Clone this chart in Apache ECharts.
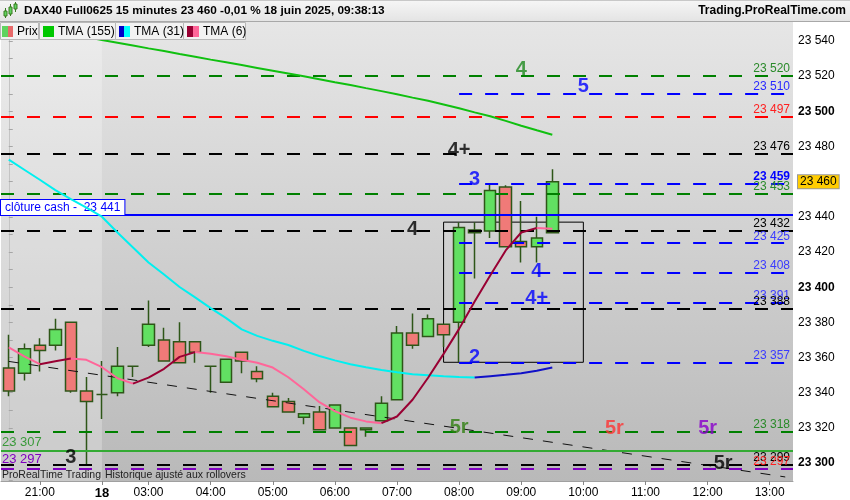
<!DOCTYPE html>
<html><head><meta charset="utf-8">
<script src="https://cdn.jsdelivr.net/npm/echarts@6/dist/echarts.min.js"></script>
<style>html,body{margin:0;padding:0;background:#fff}#c{width:850px;height:500px}</style>
</head><body><div id="c"></div>
<script>
// ---------- DATA ----------
const categories = ['20:30','20:45','21:00','21:15','21:30','21:45','18','02:30','02:45',
 '03:00','03:15','03:30','03:45','04:00','04:15','04:30','04:45','05:00','05:15','05:30','05:45',
 '06:00','06:15','06:30','06:45','07:00','07:15','07:30','07:45','08:00','08:15','08:30','08:45',
 '09:00','09:15','09:30','09:45','10:00','10:15','10:30','10:45','11:00','11:15','11:30','11:45',
 '12:00','12:15','12:30','12:45','13:00','13:15'];
const openP  = [23354,23351,23367,23367,23380,23341,23339,23340,23355,23367,23370,23369,23369,23355,23346,23363,23352,23338,23335,23326,23329,23320,23320,23319,23324,23336,23374,23372,23379,23380,23431,23432,23457,23426,23423,23431];
const closeP = [23341,23365,23364,23376,23341,23335,23339,23355,23355,23379,23358,23357,23363,23355,23359,23358,23348,23332,23329,23328,23319,23333,23310,23320,23334,23374,23367,23382,23373,23434,23432.5,23455,23423,23423,23428,23460];
const lowP   = [23338,23347,23352,23364,23340,23299,23325,23338,23349,23366,23358,23357,23357,23340,23346,23351,23346,23332,23329,23322,23319,23320,23310,23315,23324,23336,23365,23372,23366,23357.5,23405,23428,23423,23414,23414,23431];
const highP  = [23373,23368,23371,23382,23380,23349,23358,23366,23355,23392.5,23377,23380,23369,23355,23359,23363,23355,23340,23337,23328,23332.5,23333,23320,23320,23338,23378,23385,23384.5,23379,23437,23437,23459,23458,23449,23440,23467];
const tma155 = [23550.1,23548.5,23546.9,23545.3,23543.7,23542.2,23540.6,23539,23537.4,23535.8,23534.3,23532.6,23531.1,23529.4,23527.9,23526.3,23524.7,23523.1,23521.5,23519.9,23518.3,23516.6,23515,23513.2,23511.5,23509.7,23507.8,23506,23503.9,23501.8,23499.4,23497.2,23494.6,23491.8,23489.2,23486.7];
const tma31  = [23472.5,23466.8,23461.1,23455.2,23450.1,23445.2,23440.1,23431.1,23422.6,23414,23407.2,23400.1,23394.2,23388.1,23382.4,23376,23372.3,23369.5,23367.1,23363.8,23360.9,23358.4,23356.2,23354.5,23352.9,23351.6,23350.5,23349.9,23349.3,23348.9,23348.6,23349.4,23350.2,23351.1,23352.5,23354.3];
const tma6   = [23365.8,23360.7,23356.2,23357.9,23359.4,23358.7,23354.5,23348.2,23345.2,23348.6,23353.6,23360.4,23363.1,23362.1,23360.7,23358.7,23357,23354.3,23348.8,23342,23334.6,23329.5,23325.8,23323.7,23322.7,23326.5,23336,23348.5,23362.1,23376.3,23391.9,23406.7,23420.9,23431.1,23433.7,23433.2];
// horizontal levels: value and the time where the line starts (null = whole chart)
const levelValues = [23520,23510,23497,23476,23459,23453,23441,23432,23425,23408,23391,23388,23357,23318,23307,23299,23297,23297];
const levelStart  = [null,'08:00',null,null,'08:00',null,null,null,'08:00','08:00','08:00',null,'08:00',null,null,null,null,null];
// wave annotations: [time, price, text]
const annotations = [
 ['09:00',23524,'4'],['10:00',23514,'5'],['08:00',23478,'4+'],['08:15',23461,'3'],['07:15',23433,'4'],
 ['09:15',23409,'4'],['09:15',23393.5,'4+'],['08:15',23360,'2'],['08:00',23320.5,'5r'],['10:30',23319.5,'5r'],
 ['12:00',23319.5,'5r'],['12:15',23300,'5r'],['21:30',23303,'3']];
const annotationColors = ['#1f8a1f','#0000ff','#000000','#0000ff','#000000','#0000ff','#0000ff','#0000ff','#2f7f10','#ff3333','#8a00cc','#000000','#000000'];
const boxRange = {from:'07:45', to:'10:00', high:23437, low:23357.3};
const trendLine = [['20:30',23357.8],['13:15',23292.1]];
const dayStart = '18';
const yTicks = [23300,23320,23340,23360,23380,23400,23420,23440,23460,23480,23500,23520,23540];
const yMinor = [23290,23300,23310,23320,23330,23340,23350,23360,23370,23380,23390,23400,23410,23420,23430,23440,23450,23460,23470,23480,23490,23500,23510,23520,23530,23540,23550];
// ---------- STYLES ----------
const levelStyles = [
 {c:'#008000', t:'#2a8a2a'},{c:'#0000ff', t:'#2a2aff'},{c:'#ff0000', t:'#ff2020'},{c:'#000000', t:'#000'},
 {c:'#0000ff', t:'#0000ff', bold:true},{c:'#008000', t:'#2a8a2a'},{c:'#0000ff', solid:true, box:true},
 {c:'#000000', t:'#000'},{c:'#0000ff', t:'#3a3aff'},{c:'#0000ff', t:'#3a3aff'},{c:'#0000ff', t:'#3a3aff'},
 {c:'#000000', t:'#000'},{c:'#0000ff', t:'#3a3aff'},{c:'#008000', t:'#2a8a2a'},
 {c:'#33aa33', solid:true, left:true, t:'#3a9a3a'},{c:'#000000', t:'#000'},{c:'#ff0000', t:'#ff2020'},
 {c:'#8000c0', left:true, t:'#8000c0'}];

const idx = t => categories.indexOf(t);
const fmt = v => { const s = String(v); return s.replace(/\B(?=(\d{3})+(?!\d))/g,' '); };
const lastClose = closeP[closeP.length-1];
const xMax = categories.length - 0.5;

const chart = echarts.init(document.getElementById('c'), null, {renderer:'canvas'});
const FONT = '"Liberation Sans", Arial, sans-serif';

// run-split colored lines
function runs(vals, upColor, dnColor, width, z){
  const out = []; let i = 0;
  while (i < vals.length-1){
    const up = vals[i+1] >= vals[i]; let j = i;
    while (j < vals.length-1 && (vals[j+1] >= vals[j]) === up) j++;
    const d = vals.map((v,k)=> (k>=i && k<=j) ? v : null);
    out.push({type:'line', xAxisIndex:0, yAxisIndex:0, data:d, showSymbol:false, silent:true, z:z,
      lineStyle:{color: up?upColor:dnColor, width:width}, itemStyle:{color: up?upColor:dnColor}});
    i = j;
  }
  return out;
}

const markLines = levelValues.map((v,i)=>{
  const st = levelStyles[i];
  const x0 = levelStart[i] ? idx(levelStart[i]) : -0.5;
  let label;
  if (st.box) label = {show:true, position:'insideStartTop', distance:[0,0], formatter:'clôture cash -  '+fmt(v),
      color:'#0000ff', backgroundColor:'#ffffff', borderColor:'#0000ff', borderWidth:1, padding:[2,4,1,4], fontSize:12, fontFamily:FONT};
  else if (st.left) label = {show:true, position:'insideStartTop', distance:[1,2], formatter:fmt(v), color:st.t, fontSize:13, fontFamily:FONT};
  else label = {show:true, position:'insideEndTop', distance:[3,1], formatter:fmt(v), color:st.t, fontSize:12,
      fontWeight: st.bold?'bold':'normal', fontFamily:FONT};
  return [{coord:[x0, v], lineStyle:{color:st.c, width:2, type: st.solid?'solid':[13,13]}, label:label},
          {coord:[xMax, v]}];
});

const option = {
  backgroundColor:'#ffffff',
  animation:false,
  grid:{left:1, right:57, top:22, bottom:18, show:true, borderWidth:0,
    backgroundColor: new echarts.graphic.LinearGradient(0,0,0,1,[{offset:0,color:'#e6e6e6'},{offset:1,color:'#b9b9b9'}])},
  xAxis:[{type:'category', data:categories, boundaryGap:true,
      axisLine:{show:true, lineStyle:{color:'#a0a0a0'}},
      axisTick:{show:true, length:4, lineStyle:{color:'#888'}, alignWithLabel:true,
        interval:(i,v)=> v.endsWith(':00') || v===dayStart},
      axisLabel:{color:'#000', fontSize:12, fontFamily:FONT, margin:6,
        interval:(i,v)=> v.endsWith(':00') || v===dayStart,
        formatter:v=> v===dayStart ? '{b|'+v+'}' : v,
        rich:{b:{fontWeight:'bold', fontSize:13, fontFamily:FONT, color:'#000'}}},
      splitLine:{show:false}},
    {type:'value', min:-0.5, max:xMax, show:false}],
  yAxis:{type:'value', position:'right', min:23289.8, max:23550.8, scale:true,
    axisLine:{show:true, lineStyle:{color:'#b0b0b0'}},
    axisTick:{show:true, length:4, lineStyle:{color:'#888'}, customValues:yMinor},
    axisLabel:{customValues:yTicks, margin:5, color:'#000', fontSize:12, fontFamily:FONT,
      formatter:v=>{ const s=fmt(v); if (v===lastClose) return '{cur|'+s+'}'; if (v%100===0) return '{b|'+s+'}'; return s; },
      rich:{cur:{backgroundColor:'#ffcc00', borderColor:'#999', borderWidth:1, padding:[1,2,0,2], color:'#000', fontSize:12, fontFamily:FONT},
            b:{fontWeight:'bold', color:'#000', fontSize:12, fontFamily:FONT}}},
    splitLine:{show:false}},
  series:[
    {type:'line', xAxisIndex:1, yAxisIndex:0, data:[], silent:true, z:1,
      markArea:{silent:true, itemStyle:{color:'rgba(255,255,255,0.25)'},
        data:[[{coord:[-0.5, 23289.8]},{coord:[idx(dayStart), 23550.8]}]]}},
    {type:'candlestick', xAxisIndex:0, yAxisIndex:0, barWidth:12, z:2, silent:true,
      data: openP.map((o,i)=>[o, closeP[i], lowP[i], highP[i]]),
      itemStyle:{color:'#62e062', color0:'#f07a78', borderColor:'#2e5618', borderColor0:'#2e5618', borderWidth:1.5}},
    {type:'line', xAxisIndex:1, yAxisIndex:0, data:trendLine.map(p=>[idx(p[0]),p[1]]), showSymbol:false, silent:true, z:3,
      lineStyle:{color:'#111', width:1, type:[10,10]}},
    {type:'line', xAxisIndex:1, yAxisIndex:0, data:[], silent:true, z:3,
      markArea:{silent:true, itemStyle:{color:'rgba(0,0,0,0)', borderColor:'#000', borderWidth:1},
        data:[[{coord:[idx(boxRange.from), boxRange.high]},{coord:[idx(boxRange.to), boxRange.low]}]]}},
    {type:'line', xAxisIndex:1, yAxisIndex:0, data:[], silent:true, z:4,
      markLine:{silent:true, symbol:['none','none'], animation:false, data:markLines}},
    ...runs(tma155, '#10c010', '#10c010', 2, 5),
    ...runs(tma31, '#1010c8', '#00f0f0', 2, 5),
    ...runs(tma6, '#990033', '#ff6699', 2, 6),
    {type:'scatter', xAxisIndex:1, yAxisIndex:0, symbolSize:0, silent:true, z:7,
      itemStyle:{color:'transparent'},
      data: annotations.map((a,i)=>({value:[idx(a[0]), a[1]],
        label:{show:true, position:'inside', formatter:a[2], color:annotationColors[i],
          fontSize:20, fontWeight:'bold', fontFamily:FONT}}))}
  ],
  graphic:[
    {type:'rect', z:100, shape:{x:0,y:0,width:850,height:21},
      style:{fill:new echarts.graphic.LinearGradient(0,0,0,1,[{offset:0,color:'#f6f6f6'},{offset:1,color:'#e4e4e4'}])}},
    {type:'line', z:100, shape:{x1:0,y1:21.5,x2:850,y2:21.5}, style:{stroke:'#a8a8a8', lineWidth:1}},
    {type:'line', z:100, shape:{x1:0,y1:0.5,x2:850,y2:0.5}, style:{stroke:'#c8c8c8', lineWidth:1}},
    // small candle icon
    {type:'line', z:101, shape:{x1:5.5,y1:8,x2:5.5,y2:18}, style:{stroke:'#3a7a20', lineWidth:1}},
    {type:'rect', z:101, shape:{x:4,y:11,width:3,height:5}, style:{fill:'#5fd35f', stroke:'#3a7a20', lineWidth:1}},
    {type:'line', z:101, shape:{x1:10.5,y1:4,x2:10.5,y2:16}, style:{stroke:'#3a7a20', lineWidth:1}},
    {type:'rect', z:101, shape:{x:9,y:7,width:3,height:7}, style:{fill:'#5fd35f', stroke:'#3a7a20', lineWidth:1}},
    {type:'line', z:101, shape:{x1:15.5,y1:2,x2:15.5,y2:12}, style:{stroke:'#3a7a20', lineWidth:1}},
    {type:'rect', z:101, shape:{x:14,y:4,width:3,height:5}, style:{fill:'#5fd35f', stroke:'#3a7a20', lineWidth:1}},
    {type:'text', z:101, style:{x:24, y:11, text:'DAX40 Full0625 15 minutes 23 460 -0,01 % 18 juin 2025, 09:38:13',
      font:'bold 11.8px '+FONT, fill:'#000', verticalAlign:'middle'}},
    {type:'text', z:101, style:{x:846, y:11, text:'Trading.ProRealTime.com', font:'bold 12px '+FONT, fill:'#000',
      align:'right', verticalAlign:'middle'}},
    // legend boxes
    {type:'rect', z:100, shape:{x:0.5,y:22.5,width:38,height:17}, style:{fill:'#f2f2f2', stroke:'#b8b8b8', lineWidth:1}},
    {type:'rect', z:100, shape:{x:39.5,y:22.5,width:76,height:17}, style:{fill:'#f2f2f2', stroke:'#b8b8b8', lineWidth:1}},
    {type:'rect', z:100, shape:{x:115.5,y:22.5,width:68,height:17}, style:{fill:'#f2f2f2', stroke:'#b8b8b8', lineWidth:1}},
    {type:'rect', z:100, shape:{x:183.5,y:22.5,width:62,height:17}, style:{fill:'#f2f2f2', stroke:'#b8b8b8', lineWidth:1}},
    {type:'rect', z:101, shape:{x:2,y:26,width:6,height:11}, style:{fill:'#5fd35f'}},
    {type:'rect', z:101, shape:{x:8,y:26,width:5,height:11}, style:{fill:'#e86a6a'}},
    {type:'text', z:101, style:{x:17, y:31.5, text:'Prix', font:'12px '+FONT, fill:'#000', verticalAlign:'middle'}},
    {type:'rect', z:101, shape:{x:43,y:26,width:11,height:11}, style:{fill:'#00c800'}},
    {type:'text', z:101, style:{x:58, y:31.5, text:'TMA (155)', font:'12px '+FONT, fill:'#000', verticalAlign:'middle'}},
    {type:'rect', z:101, shape:{x:119,y:26,width:5,height:11}, style:{fill:'#0000c8'}},
    {type:'rect', z:101, shape:{x:124,y:26,width:6,height:11}, style:{fill:'#00ffff'}},
    {type:'text', z:101, style:{x:134, y:31.5, text:'TMA (31)', font:'12px '+FONT, fill:'#000', verticalAlign:'middle'}},
    {type:'rect', z:101, shape:{x:187,y:26,width:6,height:11}, style:{fill:'#990033'}},
    {type:'rect', z:101, shape:{x:193,y:26,width:6,height:11}, style:{fill:'#ff6699'}},
    {type:'text', z:101, style:{x:203, y:31.5, text:'TMA (6)', font:'12px '+FONT, fill:'#000', verticalAlign:'middle'}},
    // footer notes
    {type:'text', z:101, style:{x:2, y:475, text:'ProRealTime Trading', font:'10.5px '+FONT, fill:'#222', verticalAlign:'middle'}},
    {type:'text', z:101, style:{x:105, y:475, text:'Historique ajusté aux rollovers', font:'10.5px '+FONT, fill:'#222', verticalAlign:'middle'}}
  ]
};
chart.setOption(option);
</script>
</body></html>
